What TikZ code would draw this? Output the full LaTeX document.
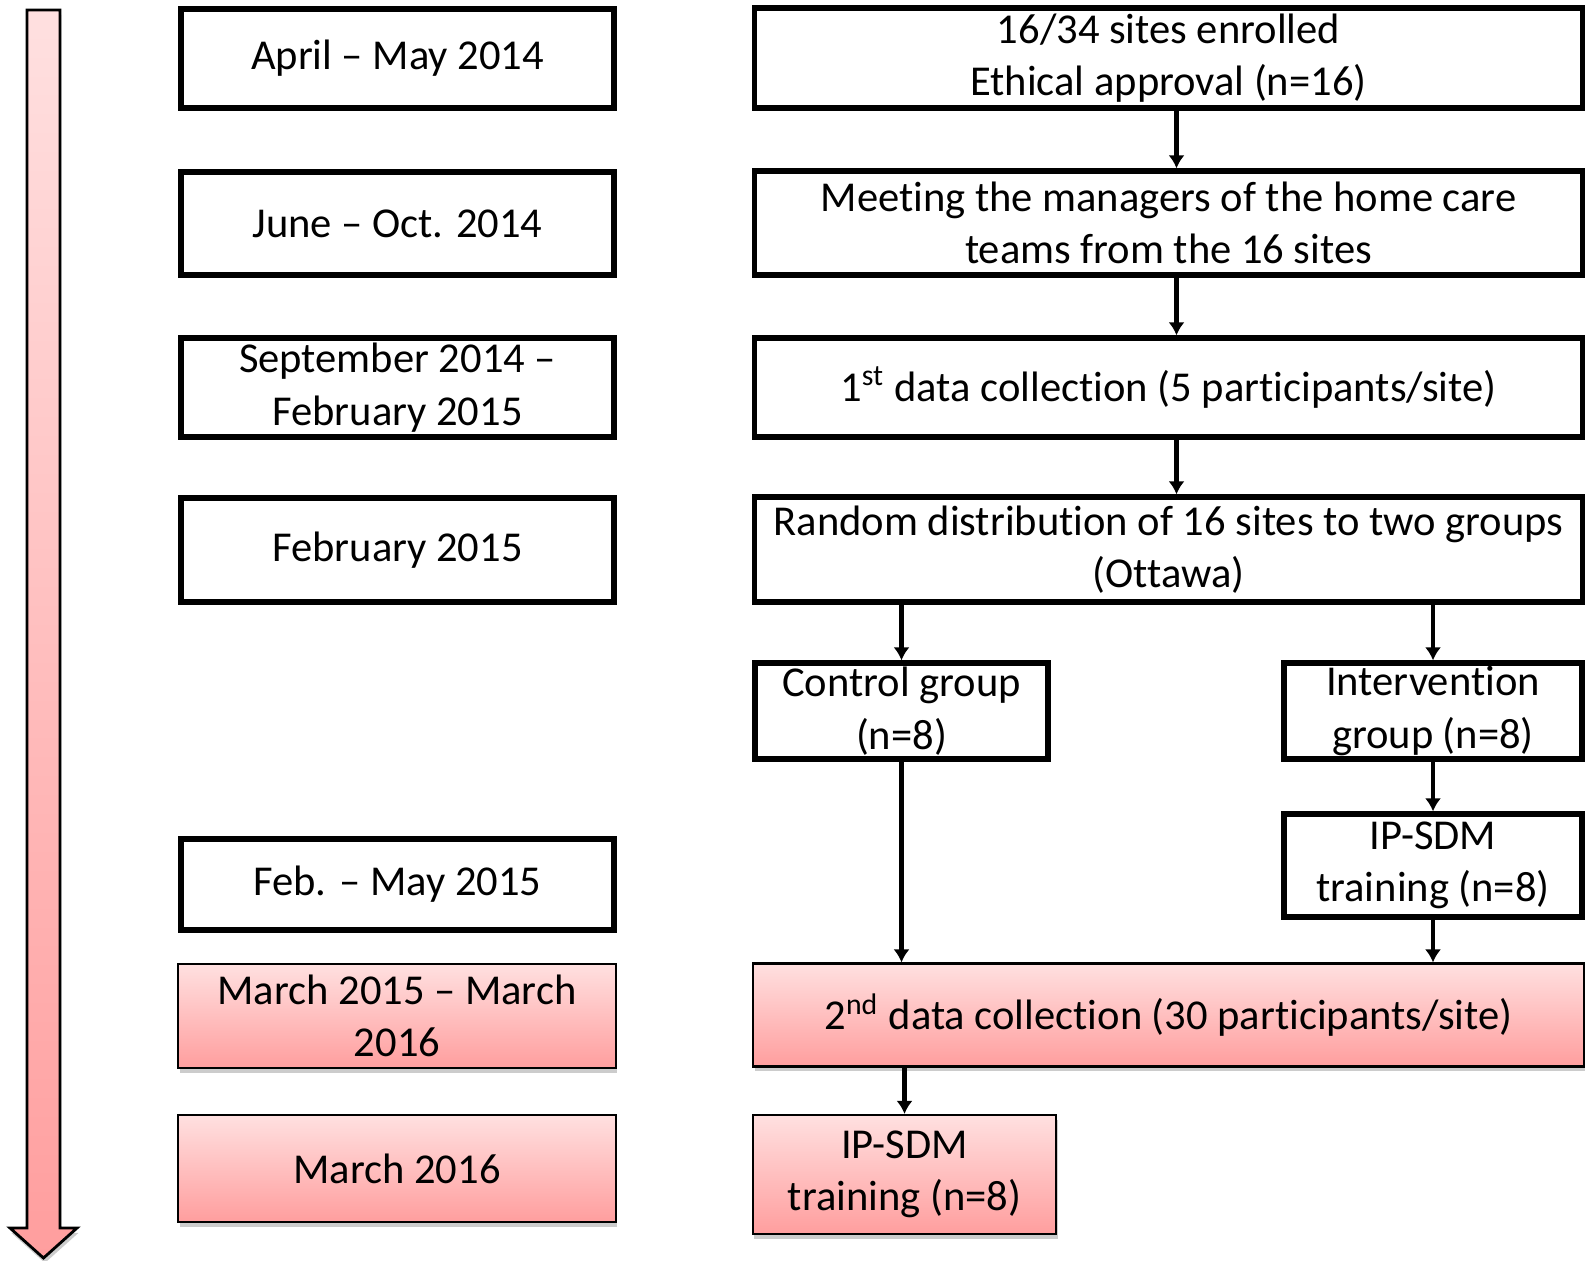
\documentclass[tikz,border=0pt]{standalone}
\usepackage{fontspec}
\setmainfont{Carlito}[RawFeature={-liga;-clig;-dlig;-calt;-rlig;-hlig}]
\usetikzlibrary{positioning}
\usetikzlibrary{arrows.meta,shadows}
\definecolor{pinktop}{RGB}{255,224,224}
\definecolor{pinkbot}{RGB}{255,158,158}
\tikzset{
	box/.style={rectangle, draw, line width=1.5pt, align=center, inner sep=0pt,
		font=\fontsize{12.1}{14.9}\selectfont},
	datebox/.style={box, minimum width=4.33cm},
	stepbox/.style={box, minimum width=8.27cm},
	pinkbox/.style={box, line width=0.6pt, top color=pinktop, bottom color=pinkbot,
		drop shadow={shadow xshift=0.4pt, shadow yshift=-1.4pt, opacity=0.4}},
	flow/.style={-{Latex[length=3.7pt,width=4.6pt]}, line width=1.4pt}
}

\begin{document}
\begin{tikzpicture}[x=0.01cm, y=-0.01cm]
				\useasboundingbox (0,0) rectangle (1585,1260);
				
				% time line
				\draw[line width=0.8pt, top color=pinktop, bottom color=pinkbot,
					drop shadow={shadow xshift=0.4pt, shadow yshift=-1.4pt, opacity=0.4}]
					(27,10) -- (60,10) -- (60,1228) -- (77,1228) -- (43.5,1258)
					-- (10,1228) -- (27,1228) -- cycle;
				
				% dates
				\node[datebox, minimum height=0.99cm] (d1) at (397.5,58.5) {April – May 2014};
				\node[datebox, minimum height=1.03cm] (d2) at (397.5,223.5) {June – Oct. 2014};
				\node[datebox, minimum height=0.99cm] (d3) at (397.5,387.5) {September 2014 –\\February 2015};
				\node[datebox, minimum height=1.04cm] (d4) at (397.5,550) {February 2015};
				\node[datebox, minimum height=0.91cm] (d5) at (397.5,884.5) {Feb. – May 2015};
				\node[pinkbox, minimum width=4.37cm, minimum height=1.04cm] (d6) at (397,1016) {March 2015 – March\\2016};
				\node[pinkbox, minimum width=4.37cm, minimum height=1.07cm] (d7) at (397,1168.5) {March 2016};
				
				% steps
				\node[stepbox, minimum height=1.00cm] (s1) at (1168.5,58) {16/34 sites enrolled\\Ethical approval (n=16)};
				\node[stepbox, minimum height=1.04cm] (s2) at (1168.5,223) {Meeting the managers of the home care\\teams from the 16 sites};
				\node[stepbox, minimum height=0.99cm] (s3) at (1168.5,387.5) {1\textsuperscript{st} data collection (5 participants/site)};
				\node[stepbox, minimum height=1.05cm] (s4) at (1168.5,549.5) {Random distribution of 16 sites to two groups\\(Ottawa)};
				\node[box, minimum width=2.93cm, minimum height=0.96cm] (c) at (901.5,711) {Control group\\(n=8)};
				\node[box, minimum width=2.98cm, minimum height=0.96cm] (i) at (1433,711) {Intervention\\group (n=8)};
				\node[box, minimum width=2.98cm, minimum height=1.03cm] (t1) at (1433,865.5) {IP-SDM\\training (n=8)};
				\node[pinkbox, minimum width=8.30cm, minimum height=1.03cm] (s5) at (1168.5,1015) {2\textsuperscript{nd} data collection (30 participants/site)};
				\node[pinkbox, minimum width=3.03cm, minimum height=1.19cm] (t2) at (904.5,1174.5) {IP-SDM\\training (n=8)};
				
				\path[flow] ([xshift=0.08cm]s1.south) edge ([xshift=0.08cm]s2.north);
				\path[flow] ([xshift=0.08cm]s2.south) edge ([xshift=0.08cm]s3.north);
				\path[flow] ([xshift=0.08cm]s3.south) edge ([xshift=0.08cm]s4.north);
				\path[flow] (s4.south -| c.north) edge (c.north);
				\path[flow] (s4.south -| i.north) edge (i.north);
				\path[flow] (c.south) edge (c.south |- s5.north);
				\path[flow] (i.south) edge (t1.north);
				\path[flow] (t1.south) edge (t1.south |- s5.north);
				\path[flow] (s5.south -| t2.north) edge (t2.north);
				
			\end{tikzpicture}
\end{document}
